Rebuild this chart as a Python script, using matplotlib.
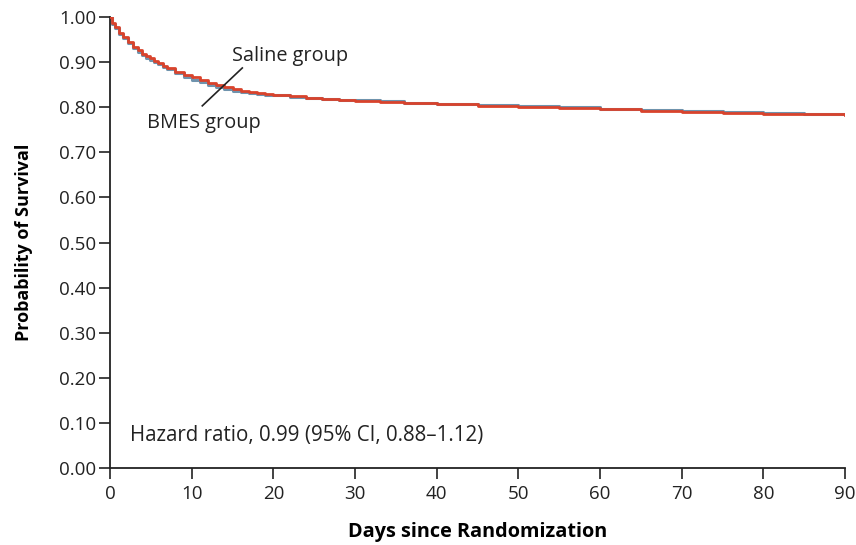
import matplotlib
matplotlib.use("Agg")
import matplotlib.pyplot as plt

# Data
days_saline = [0,0.25,0.6,1.1,1.6,2.2,2.8,3.4,3.9,4.4,4.9,5.4,5.9,6.5,7,8,9,10,11,12,13,14,15,16,17,18,19,20,22,24,26,28,30,33,36,40,45,50,55,60,65,70,75,80,85,90]
surv_saline = [1.0,0.986,0.977,0.964,0.956,0.945,0.934,0.926,0.919,0.913,0.908,0.903,0.898,0.892,0.887,0.879,0.872,0.866,0.860,0.854,0.849,0.844,0.840,0.837,0.834,0.832,0.830,0.828,0.824,0.821,0.818,0.816,0.814,0.812,0.809,0.806,0.803,0.800,0.798,0.795,0.792,0.790,0.788,0.786,0.784,0.782]
days_bmes = [0,0.25,0.6,1.1,1.6,2.2,2.8,3.4,3.9,4.4,4.9,5.4,5.9,6.5,7,8,9,10,11,12,13,14,15,16,17,18,19,20,22,24,26,28,30,33,36,40,45,50,55,60,65,70,75,80,85,90]
surv_bmes = [1.0,0.985,0.976,0.962,0.953,0.943,0.932,0.923,0.916,0.910,0.905,0.900,0.895,0.889,0.884,0.876,0.868,0.861,0.855,0.849,0.844,0.840,0.836,0.834,0.832,0.830,0.828,0.826,0.823,0.820,0.818,0.816,0.815,0.813,0.810,0.807,0.805,0.802,0.800,0.797,0.794,0.792,0.790,0.788,0.786,0.784]

xticks = [0,10,20,30,40,50,60,70,80,90]
yticks = [i/10 for i in range(11)]
ytick_labels = [f"{v:.2f}" for v in yticks]

plt.rcParams['font.family'] = ['Open Sans', 'DejaVu Sans']

fig = plt.figure(figsize=(8.56, 5.45), dpi=100)
ax = fig.add_axes([110/856, 1-468/545, 735/856, 451/545])

ax.step(days_bmes, surv_bmes, where='post', color='#6f93ad', lw=2.2, zorder=2)
ax.step(days_saline, surv_saline, where='post', color='#d9432c', lw=2.0, zorder=3)

ax.set_xlim(0, 90)
ax.set_ylim(0, 1.0)
ax.set_xticks(xticks)
ax.set_yticks(yticks)
ax.set_yticklabels(ytick_labels)
for s in ['top', 'right']:
    ax.spines[s].set_visible(False)
for s in ['left', 'bottom']:
    ax.spines[s].set_linewidth(1.3)
    ax.spines[s].set_color('#222222')
ax.tick_params(axis='both', direction='out', length=8, width=1.2, labelsize=13.5, colors='#222222', pad=2)
ax.tick_params(axis='x', pad=4)

ax.set_xlabel('Days since Randomization', fontsize=14.3, fontweight='bold', labelpad=14)
ax.set_ylabel('Probability of Survival', fontsize=13, fontweight='bold', labelpad=19)

ax.text(15.0, 0.913, 'Saline group', fontsize=14.3, va='center', ha='left', color='#222222')
ax.text(4.5, 0.765, 'BMES group', fontsize=14.3, va='center', ha='left', color='#222222')
ax.plot([16.2, 11.3], [0.887, 0.803], color='#222222', lw=1.2, zorder=4)

ax.text(2.4, 0.073, 'Hazard ratio, 0.99 (95% CI, 0.88\u20131.12)', fontsize=14.8, va='center', ha='left', color='#222222')

fig.savefig('out.png', dpi=100)
